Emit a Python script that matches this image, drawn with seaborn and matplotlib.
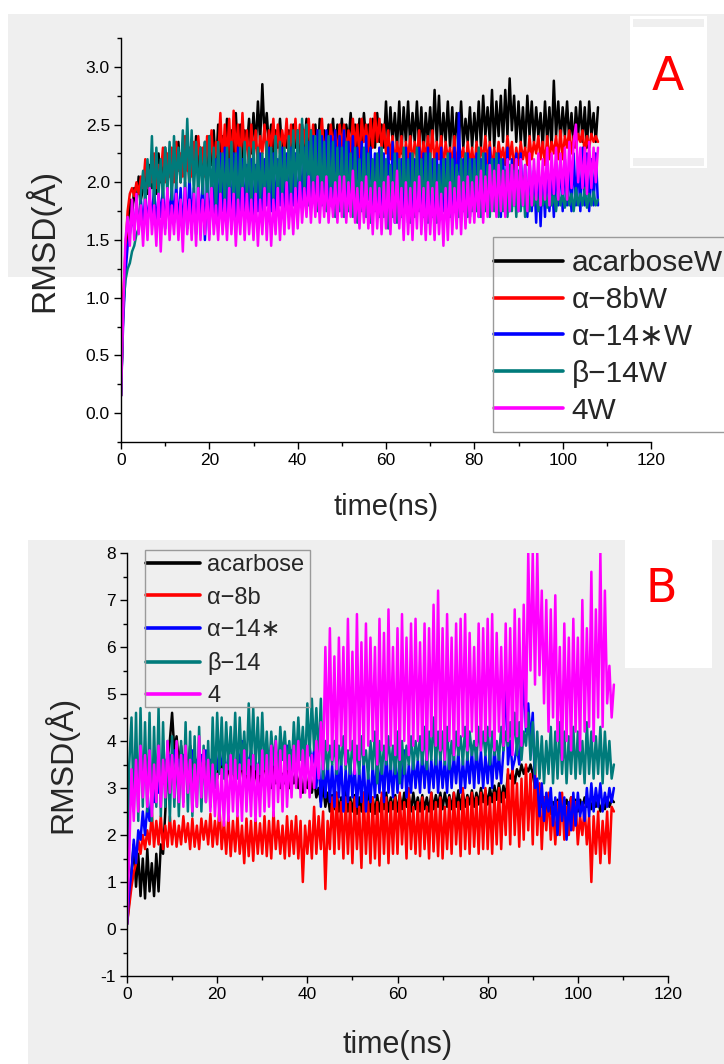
import numpy as np
import pandas as pd
import matplotlib.pyplot as plt
import seaborn as sns
from matplotlib.lines import Line2D
from matplotlib.patches import Rectangle
from matplotlib.ticker import MultipleLocator, AutoMinorLocator

sns.set_theme(style="ticks")
plt.rcParams['font.family'] = ['Liberation Sans', 'DejaVu Sans']
plt.rcParams['axes.unicode_minus'] = False

# RMSD traces sampled every 0.5 ns (0 .. 108 ns), one row = 10 ns

# ---- panel A: complexes in water ----
labels_a = ['acarboseW', 'α−8bW', 'α−14∗W', 'β−14W', '4W']
acarbose_w = [
    0.15, 0.9, 1.3, 1.6, 1.85, 1.7, 1.95, 1.8, 2.05, 1.85, 1.95, 2.1, 1.9, 2.15, 1.95, 2.2, 1.9, 2.25, 2.0, 2.15,
    2.3, 2.0, 2.2, 1.95, 2.3, 2.05, 2.35, 2.0, 2.25, 2.1, 2.35, 1.95, 2.3, 2.05, 2.4, 2.1, 2.3, 2.0, 2.35, 2.1,
    2.4, 2.15, 2.45, 2.1, 2.5, 2.2, 2.4, 2.15, 2.55, 2.2, 2.45, 2.25, 2.6, 2.2, 2.5, 2.15, 2.45, 2.3, 2.55, 2.25,
    2.6, 2.3, 2.7, 2.35, 2.85, 2.4, 2.6, 2.3, 2.5, 2.25, 2.45, 2.3, 2.55, 2.25, 2.4, 2.3, 2.45, 2.2, 2.5, 2.3,
    2.45, 2.25, 2.5, 2.3, 2.55, 2.25, 2.45, 2.3, 2.5, 2.2, 2.55, 2.3, 2.45, 2.25, 2.5, 2.3, 2.55, 2.25, 2.5, 2.3,
    2.55, 2.25, 2.5, 2.35, 2.6, 2.3, 2.5, 2.25, 2.55, 2.3, 2.6, 2.35, 2.5, 2.25, 2.55, 2.3, 2.6, 2.35, 2.5, 2.3,
    2.7, 2.3, 2.65, 2.35, 2.6, 2.3, 2.7, 2.25, 2.65, 2.35, 2.7, 2.3, 2.6, 2.35, 2.7, 2.3, 2.65, 2.25, 2.6, 2.35,
    2.65, 2.3, 2.8, 2.35, 2.75, 2.3, 2.6, 2.35, 2.7, 2.3, 2.65, 2.25, 2.6, 2.35, 2.7, 2.3, 2.55, 2.35, 2.65, 2.3,
    2.6, 2.35, 2.7, 2.3, 2.75, 2.4, 2.65, 2.35, 2.8, 2.3, 2.7, 2.4, 2.75, 2.35, 2.8, 2.4, 2.9, 2.45, 2.75, 2.35,
    2.7, 2.35, 2.65, 2.3, 2.75, 2.4, 2.7, 2.35, 2.65, 2.4, 2.6, 2.3, 2.7, 2.35, 2.65, 2.3, 2.88, 2.4, 2.7, 2.35,
    2.65, 2.4, 2.7, 2.35, 2.6, 2.3, 2.65, 2.4, 2.7, 2.35, 2.65, 2.3, 2.7, 2.4, 2.6, 2.35, 2.65]
a8b_w = [
    0.15, 1.0, 1.4, 1.75, 1.9, 1.95, 1.88, 2.0, 1.9, 2.05, 1.95, 2.2, 1.95, 2.1, 2.0, 2.25, 1.95, 2.15, 2.05, 2.3,
    2.0, 2.25, 2.05, 2.3, 2.0, 2.35, 2.1, 2.25, 2.05, 2.4, 2.1, 2.3, 2.05, 2.35, 2.15, 2.4, 2.1, 2.3, 2.05, 2.4,
    2.15, 2.45, 2.1, 2.35, 2.2, 2.6, 2.15, 2.5, 2.2, 2.55, 2.1, 2.62, 2.25, 2.5, 2.15, 2.6, 2.2, 2.45, 2.1, 2.5,
    2.2, 2.45, 2.15, 2.4, 2.25, 2.5, 2.2, 2.45, 2.3, 2.55, 2.2, 2.5, 2.25, 2.45, 2.3, 2.55, 2.2, 2.5, 2.25, 2.55,
    2.25, 2.5, 2.2, 2.45, 2.3, 2.55, 2.25, 2.5, 2.2, 2.45, 2.3, 2.55, 2.2, 2.4, 2.25, 2.5, 2.3, 2.45, 2.2, 2.5,
    2.3, 2.5, 2.2, 2.45, 2.25, 2.55, 2.3, 2.5, 2.2, 2.55, 2.35, 2.5, 2.25, 2.55, 2.3, 2.6, 2.35, 2.55, 2.3, 2.5,
    2.25, 2.45, 2.2, 2.4, 2.15, 2.35, 2.2, 2.4, 2.1, 2.35, 2.2, 2.4, 2.15, 2.35, 2.2, 2.45, 2.1, 2.35, 2.2, 2.4,
    2.2, 2.45, 2.15, 2.35, 2.2, 2.4, 2.1, 2.35, 2.2, 2.3, 2.15, 2.4, 2.1, 2.35, 2.2, 2.3, 2.1, 2.35, 2.15, 2.3,
    2.1, 2.35, 2.15, 2.3, 2.2, 2.4, 2.15, 2.35, 2.1, 2.3, 2.15, 2.35, 2.2, 2.3, 2.15, 2.4, 2.2, 2.35, 2.1, 2.3,
    2.15, 2.35, 2.2, 2.3, 2.15, 2.4, 2.2, 2.35, 2.25, 2.4, 2.2, 2.35, 2.15, 2.4, 2.2, 2.35, 2.25, 2.4, 2.2, 2.45,
    2.2, 2.4, 2.3, 2.45, 2.25, 2.4, 2.3, 2.42, 2.35, 2.45, 2.25, 2.4, 2.3, 2.42, 2.35, 2.4, 2.35]
a14_w = [
    0.15, 0.8, 1.2, 1.45, 1.55, 1.7, 1.6, 1.8, 1.65, 1.85, 1.6, 1.9, 1.65, 1.85, 1.7, 1.95, 1.6, 1.9, 1.7, 1.95,
    1.6, 1.9, 1.7, 1.95, 1.65, 2.0, 1.6, 1.95, 1.55, 2.0, 1.6, 2.05, 1.65, 1.95, 1.55, 2.0, 1.6, 2.05, 1.5, 2.0,
    1.55, 2.1, 1.7, 2.2, 1.65, 2.25, 1.75, 2.3, 1.7, 2.2, 1.6, 2.25, 1.7, 2.3, 1.75, 2.2, 1.7, 2.15, 1.65, 2.2,
    1.65, 2.15, 1.75, 2.25, 1.7, 2.2, 1.8, 2.3, 1.75, 2.25, 1.7, 2.2, 1.8, 2.3, 1.75, 2.25, 1.7, 2.3, 1.8, 2.25,
    1.7, 2.2, 1.8, 2.3, 1.75, 2.35, 1.85, 2.4, 1.8, 2.45, 1.85, 2.4, 1.8, 2.45, 1.75, 2.4, 1.85, 2.45, 1.8, 2.4,
    1.85, 2.45, 1.8, 2.35, 1.75, 2.4, 1.85, 2.3, 1.8, 2.35, 1.75, 2.4, 1.85, 2.3, 1.8, 2.25, 1.75, 2.3, 1.8, 2.25,
    1.75, 2.3, 1.7, 2.35, 1.65, 2.25, 1.75, 2.2, 1.7, 2.3, 1.65, 2.25, 1.7, 2.2, 1.75, 2.3, 1.7, 2.25, 1.65, 2.3,
    1.75, 2.2, 1.65, 2.25, 1.7, 2.3, 1.75, 2.2, 1.7, 2.25, 1.65, 2.3, 1.75, 2.6, 1.7, 2.2, 1.75, 2.25, 1.7, 2.2,
    1.75, 2.25, 1.7, 2.2, 1.8, 2.25, 1.75, 2.3, 1.8, 2.2, 1.75, 2.25, 1.7, 2.2, 1.8, 2.3, 1.75, 2.2, 1.8, 2.25,
    1.75, 2.25, 1.8, 2.15, 1.7, 2.2, 1.75, 2.1, 1.65, 2.15, 1.62, 2.1, 1.7, 2.15, 1.75, 2.1, 1.7, 2.15, 1.8, 2.2,
    1.75, 2.2, 1.8, 2.15, 1.75, 2.25, 1.8, 2.2, 1.75, 2.3, 1.8, 2.25, 1.75, 2.2, 1.8, 2.25, 1.8]
b14_w = [
    0.15, 0.9, 1.15, 1.25, 1.3, 1.4, 1.45, 1.55, 1.6, 1.9, 2.1, 1.8, 2.2, 1.85, 2.4, 1.8, 2.3, 1.9, 2.2, 1.85,
    2.3, 1.9, 2.35, 1.85, 2.4, 1.95, 2.3, 2.0, 2.45, 1.95, 2.55, 2.0, 2.45, 1.9, 2.35, 1.85, 2.3, 1.9, 2.35, 1.8,
    2.4, 1.8, 2.3, 1.75, 2.35, 1.85, 2.25, 1.8, 2.3, 1.75, 2.35, 1.8, 2.25, 1.75, 2.3, 1.8, 2.35, 1.85, 2.3, 1.75,
    2.35, 1.8, 2.3, 1.85, 2.25, 1.75, 2.35, 1.8, 2.3, 1.85, 2.4, 1.8, 2.35, 1.85, 2.3, 1.8, 2.4, 1.85, 2.45, 1.8,
    2.45, 1.9, 2.55, 1.85, 2.5, 1.8, 2.45, 1.85, 2.4, 1.75, 2.45, 1.8, 2.35, 1.75, 2.4, 1.8, 2.35, 1.7, 2.3, 1.75,
    2.3, 1.7, 2.35, 1.75, 2.25, 1.7, 2.3, 1.65, 2.2, 1.75, 2.3, 1.7, 2.25, 1.65, 2.2, 1.75, 2.25, 1.7, 2.3, 1.7,
    2.2, 1.6, 2.15, 1.7, 2.25, 1.65, 2.2, 1.7, 2.3, 1.75, 2.2, 1.65, 2.25, 1.7, 2.3, 1.75, 2.2, 1.7, 2.25, 1.65,
    2.25, 1.7, 2.2, 1.65, 2.15, 1.7, 2.2, 1.75, 2.25, 1.7, 2.2, 1.75, 2.15, 1.7, 2.2, 1.75, 2.25, 1.7, 2.2, 1.75,
    2.2, 1.75, 2.3, 1.7, 2.25, 1.75, 2.15, 1.7, 2.2, 1.75, 2.25, 1.7, 2.2, 1.75, 2.1, 1.7, 2.15, 1.75, 2.1, 1.7,
    2.1, 1.75, 2.05, 1.7, 2.0, 1.75, 1.95, 1.8, 1.9, 1.75, 1.95, 1.8, 1.9, 1.78, 1.95, 1.8, 1.9, 1.75, 1.95, 1.8,
    1.9, 1.78, 1.95, 1.8, 1.9, 1.75, 1.95, 1.8, 1.9, 1.8, 1.95, 1.78, 1.9, 1.8, 1.92, 1.8, 1.85]
lig4_w = [
    0.15, 0.9, 1.5, 1.7, 1.45, 1.85, 1.5, 1.9, 1.55, 1.8, 1.45, 1.85, 1.5, 1.95, 1.55, 1.8, 1.45, 1.9, 1.4, 1.85,
    1.55, 1.95, 1.5, 1.8, 1.55, 1.9, 1.5, 1.85, 1.4, 1.95, 1.55, 1.85, 1.5, 1.9, 1.45, 1.95, 1.5, 1.85, 1.55, 1.9,
    1.5, 1.95, 1.55, 1.8, 1.5, 1.9, 1.55, 1.85, 1.5, 1.95, 1.55, 1.9, 1.45, 1.85, 1.55, 1.95, 1.5, 1.9, 1.55, 1.85,
    1.5, 1.9, 1.45, 1.85, 1.55, 1.95, 1.5, 1.9, 1.45, 1.85, 1.55, 1.95, 1.5, 1.9, 1.55, 2.0, 1.6, 1.9, 1.55, 1.95,
    1.6, 2.0, 1.65, 1.95, 1.7, 2.05, 1.65, 2.0, 1.7, 2.05, 1.65, 2.0, 1.7, 2.05, 1.65, 1.95, 1.7, 2.0, 1.65, 2.05,
    1.7, 2.05, 1.65, 2.0, 1.7, 2.1, 1.65, 1.95, 1.6, 2.0, 1.65, 2.05, 1.6, 1.95, 1.55, 2.0, 1.6, 1.95, 1.55, 2.0,
    1.6, 2.05, 1.55, 2.0, 1.65, 2.1, 1.6, 1.95, 1.5, 2.0, 1.55, 1.95, 1.5, 2.0, 1.6, 2.05, 1.55, 1.95, 1.5, 2.0,
    1.55, 1.95, 1.5, 2.0, 1.55, 1.9, 1.45, 1.95, 1.5, 2.0, 1.55, 1.95, 1.6, 2.05, 1.55, 2.0, 1.6, 2.05, 1.65, 2.0,
    1.65, 2.05, 1.7, 2.1, 1.65, 2.05, 1.7, 2.15, 1.75, 2.1, 1.7, 2.15, 1.75, 2.1, 1.7, 2.2, 1.75, 2.15, 1.8, 2.2,
    1.75, 2.2, 1.8, 2.15, 1.75, 2.25, 1.8, 2.2, 1.85, 2.25, 1.8, 2.2, 1.85, 2.3, 1.8, 2.25, 1.9, 2.3, 1.85, 2.25,
    1.9, 2.3, 1.85, 2.35, 1.95, 2.35, 2.5, 2.0, 2.3, 1.95, 2.3, 1.9, 2.35, 1.95, 2.3, 2.0, 2.3]

# ---- panel B: complexes ----
labels_b = ['acarbose', 'α−8b', 'α−14∗', 'β−14', '4']
acarbose = [
    0.1, 0.6, 1.2, 1.8, 0.9, 1.6, 0.7, 1.5, 0.65, 1.7, 0.8, 1.4, 0.7, 1.6, 0.8, 1.8, 1.6, 2.5, 3.6, 4.0,
    4.6, 3.8, 4.1, 3.5, 3.9, 3.4, 3.8, 3.3, 3.9, 3.4, 3.7, 3.3, 3.6, 3.2, 3.7, 3.3, 3.6, 3.2, 3.5, 3.3,
    3.2, 3.7, 3.3, 3.6, 3.1, 3.5, 3.2, 3.6, 3.1, 3.5, 3.2, 3.6, 3.1, 3.4, 3.0, 3.5, 3.1, 3.4, 3.0, 3.3,
    3.2, 3.6, 3.1, 3.4, 3.0, 3.5, 3.1, 3.4, 3.0, 3.3, 3.1, 3.4, 3.0, 3.3, 3.1, 3.4, 3.0, 3.3, 2.9, 3.2,
    3.0, 3.3, 2.9, 3.2, 2.8, 3.0, 2.7, 3.05, 2.6, 2.9, 2.5, 2.85, 2.55, 2.9, 2.5, 2.8, 2.55, 2.95, 2.5, 2.8,
    2.5, 2.85, 2.45, 2.8, 2.5, 2.9, 2.55, 3.05, 2.5, 2.8, 2.45, 2.85, 2.5, 2.8, 2.55, 2.9, 2.5, 2.8, 2.55, 2.85,
    2.5, 2.85, 2.55, 2.9, 2.6, 2.85, 2.5, 2.9, 2.55, 2.8, 2.5, 2.85, 2.55, 2.8, 2.5, 2.9, 2.55, 2.85, 2.6, 2.9,
    2.55, 2.9, 2.6, 2.85, 2.55, 2.9, 2.6, 2.95, 2.55, 2.9, 2.6, 2.85, 2.65, 2.95, 2.6, 2.9, 2.65, 3.0, 2.7, 2.95,
    2.65, 3.0, 2.7, 3.05, 2.75, 3.1, 2.7, 3.05, 2.8, 3.3, 3.2, 3.35, 3.1, 3.4, 3.25, 3.5, 3.3, 3.45, 3.35, 3.5,
    3.3, 3.0, 2.7, 2.9, 2.6, 2.8, 2.5, 2.75, 2.45, 2.7, 2.5, 2.75, 2.55, 2.8, 2.6, 2.75, 2.55, 2.8, 2.6, 2.75,
    2.5, 2.75, 2.55, 2.8, 2.6, 2.75, 2.55, 2.8, 2.6, 2.75, 2.5, 2.7, 2.55, 2.8, 2.6, 2.75, 2.7]
a8b = [
    0.1, 0.5, 0.9, 1.2, 1.4, 1.9, 1.6, 2.0, 1.7, 2.1, 1.8, 2.5, 1.75, 2.3, 1.8, 2.4, 1.7, 2.2, 1.75, 2.4,
    1.8, 2.3, 1.75, 2.2, 1.8, 2.4, 1.85, 2.25, 1.7, 2.35, 1.75, 2.2, 1.7, 2.35, 1.9, 2.3, 1.8, 2.45, 1.75, 2.3,
    1.8, 2.6, 1.7, 2.3, 1.6, 2.4, 1.55, 2.3, 1.65, 2.4, 1.6, 2.2, 1.4, 2.35, 1.55, 2.3, 1.45, 2.35, 1.6, 2.25,
    1.6, 2.4, 1.55, 2.3, 1.5, 2.5, 1.7, 2.3, 1.6, 2.2, 1.5, 2.4, 1.55, 2.3, 1.6, 2.4, 1.5, 2.3, 1.0, 2.2,
    1.6, 2.3, 1.5, 2.6, 1.6, 2.4, 1.7, 2.5, 0.85, 2.3, 1.7, 2.8, 1.6, 2.9, 1.7, 2.7, 1.5, 2.8, 1.6, 2.7,
    1.4, 2.8, 1.7, 2.6, 1.3, 2.9, 1.6, 2.7, 1.4, 2.8, 1.5, 2.7, 1.35, 2.9, 1.6, 2.8, 1.4, 2.7, 1.6, 2.8,
    1.6, 2.9, 1.8, 2.7, 1.5, 3.0, 1.7, 2.6, 1.6, 2.7, 1.55, 2.8, 1.7, 2.6, 1.5, 2.9, 1.65, 2.7, 1.55, 2.8,
    1.5, 2.6, 1.7, 2.8, 1.6, 2.9, 1.8, 2.7, 1.55, 3.0, 1.7, 2.8, 1.6, 2.9, 1.75, 2.8, 1.6, 2.9, 1.7, 3.0,
    1.7, 2.8, 1.6, 2.9, 1.8, 3.0, 1.7, 2.9, 2.0, 3.4, 1.8, 3.5, 2.0, 3.1, 1.75, 3.2, 1.9, 3.5, 2.1, 3.3,
    1.8, 3.5, 2.0, 3.1, 1.7, 2.8, 2.1, 2.9, 1.9, 2.6, 1.8, 2.7, 2.0, 2.9, 1.9, 2.6, 2.0, 2.8, 2.1, 2.7,
    1.8, 2.4, 2.0, 2.6, 1.8, 2.4, 1.0, 2.4, 1.6, 2.5, 1.4, 2.3, 1.6, 2.5, 1.4, 2.6, 2.5]
a14 = [
    0.1, 0.8, 1.2, 1.9, 1.4, 2.1, 1.9, 2.5, 2.0, 2.6, 2.3, 3.0, 2.7, 3.2, 2.9, 3.4, 3.1, 3.6, 3.2, 3.7,
    3.3, 3.8, 3.4, 3.6, 3.3, 3.7, 3.4, 3.5, 3.3, 3.8, 3.5, 3.6, 3.4, 3.7, 3.5, 3.8, 3.4, 3.6, 3.3, 3.7,
    3.4, 3.8, 3.5, 3.6, 3.3, 3.7, 3.4, 3.5, 3.3, 3.8, 3.5, 4.0, 3.4, 3.7, 3.5, 3.8, 3.4, 3.6, 3.3, 3.7,
    3.5, 3.8, 3.4, 3.6, 3.3, 3.7, 3.4, 3.6, 3.5, 3.8, 3.5, 3.9, 3.6, 3.8, 3.5, 3.9, 3.6, 3.8, 3.5, 3.9,
    3.6, 3.9, 3.5, 3.8, 3.0, 3.7, 2.6, 3.5, 2.8, 3.6, 2.7, 3.5, 2.6, 3.7, 2.8, 3.6, 2.5, 3.4, 2.7, 3.6,
    2.8, 3.5, 2.6, 3.4, 2.7, 3.6, 2.5, 3.3, 2.7, 3.5, 2.8, 3.7, 2.9, 3.6, 2.7, 3.8, 2.9, 3.5, 2.8, 3.7,
    2.9, 3.6, 3.0, 3.8, 2.8, 3.5, 2.9, 3.7, 3.0, 3.6, 2.9, 3.8, 3.0, 3.7, 2.9, 3.6, 3.0, 3.8, 2.9, 3.7,
    3.0, 3.6, 2.9, 3.8, 3.0, 3.7, 3.1, 3.8, 2.9, 3.6, 3.0, 3.7, 3.1, 3.8, 3.0, 3.9, 3.1, 3.8, 3.0, 3.7,
    3.1, 3.8, 3.0, 3.9, 3.2, 3.7, 3.1, 3.8, 5.6, 3.5, 4.0, 3.4, 3.6, 3.9, 3.5, 4.2, 5.5, 4.2, 4.8, 4.0,
    4.6, 3.0, 3.2, 2.4, 3.1, 2.3, 2.9, 2.5, 3.0, 2.2, 2.8, 2.0, 2.9, 2.3, 2.8, 1.9, 2.7, 2.1, 2.9, 2.2,
    2.9, 2.4, 2.7, 2.3, 3.0, 2.4, 3.1, 2.5, 3.0, 2.6, 3.1, 2.5, 2.9, 2.6, 3.0, 2.7, 3.0]
b14 = [
    0.1, 3.5, 4.5, 2.5, 4.6, 2.3, 4.7, 2.6, 4.4, 2.5, 4.6, 2.3, 4.3, 2.6, 4.7, 2.4, 4.4, 2.6, 4.0, 2.3,
    4.1, 2.6, 3.9, 2.4, 4.0, 2.7, 4.4, 2.5, 4.2, 2.4, 4.1, 2.6, 4.3, 2.5, 3.9, 2.7, 4.0, 2.6, 4.5, 3.0,
    4.6, 3.3, 4.5, 3.2, 4.4, 3.4, 4.3, 3.3, 4.6, 3.2, 4.5, 3.4, 4.2, 3.3, 4.8, 3.5, 4.7, 3.4, 4.5, 3.3,
    4.6, 3.4, 4.2, 3.3, 4.2, 3.5, 4.1, 3.2, 4.3, 3.6, 4.2, 3.4, 4.0, 3.3, 4.4, 3.5, 4.5, 3.6, 4.3, 3.4,
    4.8, 3.7, 4.9, 3.8, 4.7, 3.6, 4.9, 3.2, 4.0, 3.4, 3.9, 3.5, 4.0, 3.3, 3.9, 3.5, 4.1, 3.4, 3.8, 3.3,
    4.0, 3.4, 3.9, 3.3, 4.1, 3.5, 3.8, 3.2, 4.0, 3.4, 4.2, 3.1, 4.0, 3.3, 3.9, 3.5, 4.1, 3.4, 3.9, 3.3,
    4.2, 3.1, 4.0, 3.3, 3.9, 3.5, 4.1, 3.4, 4.0, 3.6, 4.1, 3.5, 4.3, 3.4, 4.2, 3.6, 4.5, 3.5, 4.2, 3.6,
    4.2, 3.5, 4.3, 3.4, 4.0, 3.6, 4.2, 3.7, 4.1, 3.5, 4.3, 3.6, 4.2, 3.7, 4.0, 3.6, 4.3, 3.8, 4.2, 3.7,
    4.3, 3.5, 4.2, 3.7, 4.0, 3.6, 4.3, 3.8, 4.2, 3.9, 4.4, 3.8, 4.6, 3.7, 4.4, 3.6, 4.2, 3.9, 4.6, 3.6,
    4.4, 3.3, 4.2, 3.2, 4.1, 3.1, 4.0, 3.3, 4.3, 3.1, 4.2, 3.2, 4.4, 3.3, 4.2, 3.1, 4.1, 3.3, 4.3, 3.2,
    4.2, 3.3, 4.0, 3.1, 4.4, 3.3, 4.2, 3.2, 4.1, 3.3, 4.3, 3.1, 4.2, 3.3, 4.0, 3.2, 3.5]
lig4 = [
    0.1, 1.6, 3.4, 2.3, 3.6, 2.5, 3.9, 2.8, 3.7, 2.6, 3.8, 2.4, 3.5, 2.7, 3.9, 2.6, 3.6, 2.8, 4.0, 2.9,
    3.7, 2.8, 4.0, 2.7, 3.7, 2.6, 3.9, 2.9, 3.6, 2.5, 3.5, 2.6, 4.1, 2.8, 3.8, 2.7, 3.6, 2.5, 3.5, 2.4,
    3.3, 2.3, 3.4, 2.2, 3.5, 2.3, 3.7, 2.5, 3.6, 2.4, 3.5, 2.3, 3.8, 2.5, 3.6, 2.4, 3.7, 2.3, 3.5, 2.4,
    3.8, 2.5, 3.7, 2.6, 3.9, 2.4, 4.0, 2.7, 3.8, 2.5, 3.9, 2.6, 3.7, 2.8, 3.9, 3.0, 4.0, 2.8, 3.8, 2.9,
    3.9, 2.8, 3.7, 3.0, 4.0, 3.2, 4.4, 3.4, 6.0, 3.8, 6.4, 3.6, 5.8, 3.4, 6.2, 3.9, 6.0, 3.5, 6.6, 3.8,
    5.9, 3.3, 6.7, 3.6, 6.1, 3.7, 6.5, 3.9, 6.2, 4.0, 6.0, 3.5, 6.6, 3.8, 6.3, 3.6, 6.8, 3.9, 6.0, 3.7,
    6.4, 3.6, 6.7, 4.0, 6.2, 3.7, 6.5, 3.9, 6.6, 4.0, 6.1, 3.8, 6.5, 3.6, 6.4, 4.1, 6.9, 3.9, 7.2, 3.8,
    6.4, 3.6, 6.7, 4.0, 6.2, 3.7, 6.5, 3.9, 6.6, 4.1, 6.7, 3.8, 6.3, 4.2, 6.0, 3.9, 6.5, 3.8, 6.4, 4.0,
    6.6, 4.1, 6.7, 3.8, 6.3, 4.2, 6.0, 3.9, 6.5, 4.0, 6.4, 3.7, 6.8, 4.1, 6.6, 3.9, 6.9, 4.3, 8.0, 5.5,
    8.0, 5.2, 8.0, 5.4, 7.2, 4.8, 7.0, 4.2, 6.8, 4.5, 7.1, 4.0, 6.0, 3.6, 6.5, 4.0, 6.2, 3.8, 6.6, 4.2,
    6.2, 3.8, 7.0, 4.2, 6.4, 4.3, 7.6, 4.0, 6.8, 4.5, 8.0, 4.3, 7.2, 4.8, 5.6, 4.5, 5.2]

colors = ['#000000', '#ff0000', '#0000ff', '#007b7b', '#ff00ff']


def long_frame(series, labels):
    parts = []
    for vals, lab in zip(series, labels):
        t = [0.5 * i for i in range(len(vals))]
        parts.append(pd.DataFrame({'time': t, 'rmsd': vals, 'system': lab}))
    return pd.concat(parts, ignore_index=True)


df_a = long_frame([acarbose_w, a8b_w, a14_w, b14_w, lig4_w], labels_a)
df_b = long_frame([acarbose, a8b, a14, b14, lig4], labels_b)

fig = plt.figure(figsize=(7.24, 10.64), dpi=100, facecolor='white')
W, H = 724, 1064


def px_rect(x0, y0, x1, y1, color, fill=True, z=-10):
    # rectangle in pixel coords (top-left origin)
    r = Rectangle((x0 / W, 1 - y1 / H), (x1 - x0) / W, (y1 - y0) / H,
                  transform=fig.transFigure, zorder=z, fill=fill)
    if fill:
        r.set_facecolor(color)
        r.set_linewidth(0)
    else:
        r.set_edgecolor(color)
        r.set_linewidth(1.0)
    fig.patches.append(r)


gray = '#efefef'
px_rect(8, 14, 724, 277, gray)
px_rect(630, 16, 707, 168, 'white')
px_rect(633, 19, 704, 27, gray)
px_rect(633, 158, 704, 166, gray)
px_rect(28, 540, 724, 1064, gray)
px_rect(625, 540, 712, 668, 'white')
# legend frames
px_rect(493, 237, 740, 432, '#9a9a9a', fill=False, z=5)
px_rect(145, 550, 310, 707, '#9a9a9a', fill=False, z=5)

ax_a = fig.add_axes([121 / W, 1 - 442 / H, 530 / W, 404 / H])
ax_b = fig.add_axes([127 / W, 1 - 976 / H, 541 / W, 423 / H])

for ax, df, labs in [(ax_a, df_a, labels_a), (ax_b, df_b, labels_b)]:
    ax.set_facecolor('none')
    sns.lineplot(data=df, x='time', y='rmsd', hue='system', hue_order=labs,
                 palette=dict(zip(labs, colors)), estimator=None, sort=False,
                 lw=1.8, legend=False, ax=ax)
    sns.despine(ax=ax)
    for s in ['left', 'bottom']:
        ax.spines[s].set_color('black')
        ax.spines[s].set_linewidth(1.0)
    ax.set_xlim(0, 120)
    ax.xaxis.set_major_locator(MultipleLocator(20))
    ax.xaxis.set_minor_locator(AutoMinorLocator(2))
    ax.yaxis.set_minor_locator(AutoMinorLocator(2))
    ax.tick_params(which='major', direction='out', length=5, width=1, labelsize=12.5,
                   colors='black', pad=3)
    ax.tick_params(which='minor', direction='out', length=3, width=1, colors='black')

handles = [Line2D([], [], color=c, lw=2.6) for c in colors]
ax_a.legend(handles, labels_a, loc='upper left', frameon=False,
            bbox_to_anchor=(494 / W, 1 - 249 / H), bbox_transform=fig.transFigure,
            fontsize=21.5, handlelength=2.3, handletextpad=0.3,
            labelspacing=0.3, borderpad=0, borderaxespad=0)
ax_b.legend(handles, labels_b, loc='upper left', frameon=False,
            bbox_to_anchor=(146 / W, 1 - 554 / H), bbox_transform=fig.transFigure,
            fontsize=17, handlelength=2.3, handletextpad=0.3,
            labelspacing=0.45, borderpad=0, borderaxespad=0)

ax_a.set_ylim(-0.25, 3.25)
ax_a.yaxis.set_major_locator(MultipleLocator(0.5))
ax_a.yaxis.set_major_formatter('{x:.1f}')
ax_a.set_ylabel('RMSD(Å)', fontsize=24, labelpad=18)
ax_a.set_xlabel('time(ns)', fontsize=21, labelpad=18)

ax_b.set_ylim(-1, 8)
ax_b.yaxis.set_major_locator(MultipleLocator(1))
ax_b.set_ylabel('RMSD(Å)', fontsize=23, labelpad=16)
ax_b.set_xlabel('time(ns)', fontsize=22, labelpad=20)

fig.text(668 / W, 1 - 78 / H, 'A', color='#ff0000', fontsize=34, ha='center', va='center',
         family='DejaVu Sans')
fig.text(661 / W, 1 - 590 / H, 'B', color='#ff0000', fontsize=33, ha='center', va='center',
         family='DejaVu Sans')

fig.savefig('out.png', dpi=100, facecolor='white')
